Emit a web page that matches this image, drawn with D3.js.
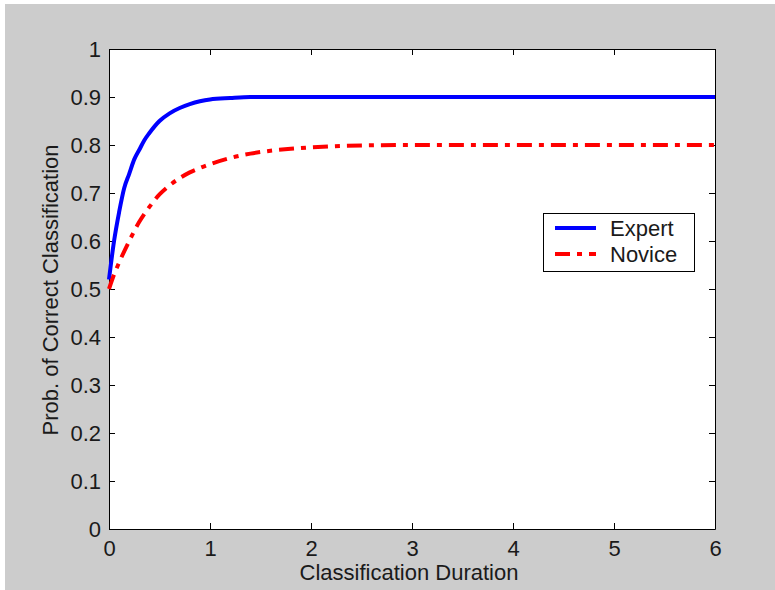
<!DOCTYPE html>
<html><head><meta charset="utf-8">
<script src="https://cdn.jsdelivr.net/npm/d3@7"></script>
<style>body{margin:0;background:#fff}svg{display:block}</style>
</head><body>
<svg id="c" width="775" height="590"></svg>
<script>
const expertT = [0,0.05,0.1,0.15,0.2,0.25,0.3,0.35,0.4,0.5,0.6,0.7,0.8,0.9,1.0,1.2,1.4,2,3,4,5,6];
const expertP = [0.52,0.60,0.66,0.71,0.74,0.77,0.79,0.81,0.825,0.85,0.866,0.877,0.885,0.891,0.895,0.898,0.9,0.9,0.9,0.9,0.9,0.9];
const noviceT = [0,0.05,0.1,0.2,0.3,0.4,0.5,0.6,0.7,0.8,0.9,1.0,1.2,1.4,1.6,1.8,2.0,2.5,3,4,5,6];
const noviceP = [0.5,0.53,0.555,0.60,0.64,0.671,0.697,0.716,0.731,0.743,0.752,0.76,0.773,0.782,0.788,0.792,0.795,0.799,0.8,0.8,0.8,0.8];
const xTicks = [0,1,2,3,4,5,6];
const yTicks = [0,0.1,0.2,0.3,0.4,0.5,0.6,0.7,0.8,0.9,1];
const seriesNames = ["Expert","Novice"];
const xLabel = "Classification Duration";
const yLabel = "Prob. of Correct Classification";

const svg = d3.select("#c");
const font = "Liberation Sans, Arial, sans-serif";
const fs = 22;
const tc = "#1a1a1a";
svg.append("rect").attr("x",5).attr("y",4).attr("width",770).attr("height",586).attr("fill","#cccccc");

const L=109,R=715,T=49,B=529;
const x = d3.scaleLinear().domain([0,6]).range([L,R]);
const y = d3.scaleLinear().domain([0,1]).range([B,T]);

svg.append("rect").attr("x",L).attr("y",T).attr("width",R-L).attr("height",B-T).attr("fill","#fff");

const fmt = d => d===0||d===1 ? String(d) : d3.format(".1f")(d);
const gx = svg.append("g").attr("transform",`translate(0,${B})`)
  .call(d3.axisBottom(x).tickValues(xTicks).tickFormat(d3.format("d")).tickSizeInner(-6).tickSizeOuter(0).tickPadding(11));
const gy = svg.append("g").attr("transform",`translate(${L},0)`)
  .call(d3.axisLeft(y).tickValues(yTicks).tickFormat(fmt).tickSizeInner(-6).tickSizeOuter(0).tickPadding(8));
const gx2 = svg.append("g").attr("transform",`translate(0,${T})`)
  .call(d3.axisTop(x).tickValues(xTicks).tickFormat("").tickSizeInner(-6).tickSizeOuter(0));
const gy2 = svg.append("g").attr("transform",`translate(${R},0)`)
  .call(d3.axisRight(y).tickValues(yTicks).tickFormat("").tickSizeInner(-6).tickSizeOuter(0));
[gx,gy,gx2,gy2].forEach(g=>{
  g.selectAll("path").attr("stroke","#000").attr("stroke-width",1);
  g.selectAll("line").attr("stroke","#000");
  g.selectAll("text").attr("font-family",font).attr("font-size",fs).attr("fill",tc);
});
gx.selectAll("text").attr("dy","0.71em");

svg.append("text").attr("x",409).attr("y",580).attr("text-anchor","middle")
  .attr("font-family",font).attr("font-size",fs).attr("fill",tc).text(xLabel);
svg.append("text").attr("transform",`translate(58,290) rotate(-90)`).attr("text-anchor","middle")
  .attr("font-family",font).attr("font-size",fs).attr("fill",tc).text(yLabel);

const line = d3.line().x(d=>x(d[0])).y(d=>y(d[1])).curve(d3.curveMonotoneX);
const expert = expertT.map((t,i)=>[t,expertP[i]]);
const novice = noviceT.map((t,i)=>[t,noviceP[i]]);
svg.append("path").datum(expert).attr("d",line).attr("fill","none")
  .attr("stroke","#0000ff").attr("stroke-width",4);
svg.append("path").datum(novice).attr("d",line).attr("fill","none")
  .attr("stroke","#ff0000").attr("stroke-width",4).attr("stroke-dasharray","15,7,5,7");

// legend
const lg = svg.append("g");
lg.append("rect").attr("x",543.5).attr("y",213.5).attr("width",151).attr("height",58)
  .attr("fill","#fff").attr("stroke","#000").attr("stroke-width",1);
const styles = [{c:"#0000ff",d:null},{c:"#ff0000",d:"15,7,5,7"}];
seriesNames.forEach((n,i)=>{
  const yy = 228 + i*26;
  lg.append("line").attr("x1",555).attr("x2",596).attr("y1",yy).attr("y2",yy)
    .attr("stroke",styles[i].c).attr("stroke-width",4).attr("stroke-dasharray",styles[i].d);
  lg.append("text").attr("x",610).attr("y",yy+8)
    .attr("font-family",font).attr("font-size",fs).attr("fill",tc).text(n);
});
</script>
</body></html>
